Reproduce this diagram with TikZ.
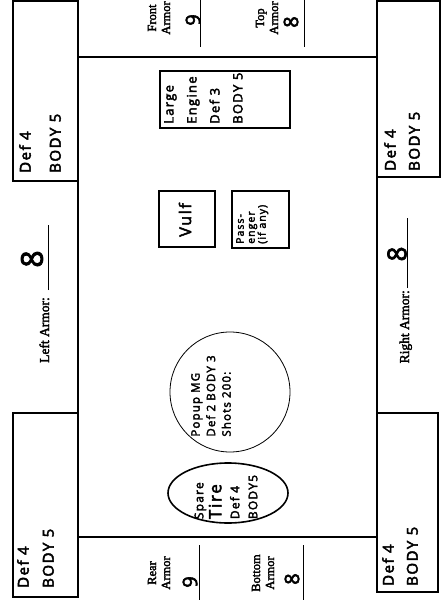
\documentclass[tikz,border=0pt]{standalone}
\usepackage{fontspec}
\setmainfont{Liberation Serif}[FakeBold=2.5]
\newfontfamily\handfont[LetterSpace=10, FakeBold=3]{Open Sans}
\newcommand{\handsize}[2]{\handfont\fontsize{#1}{#2}\selectfont}
\usepackage{tikz}
\tikzset{
  heavy/.style={line width=2.4pt},
  partbox/.style={line width=2.6pt},
  blank/.style={line width=0.7pt},
  printed/.style={rotate=90, align=center, inner sep=0pt,
    font=\fontsize{12.5}{14}\selectfont},
  hand/.style={rotate=90, align=left, inner sep=0pt},
}

\begin{document}
\begin{tikzpicture}[x=1pt, y=-1pt]
  \useasboundingbox (0,0) rectangle (447,609);

  % Wheels
  \draw[heavy] (13,1) rectangle (78,181);
  \draw[heavy] (377,1) rectangle (440,177);
  \draw[heavy] (13,413) rectangle (78,597);
  \draw[heavy] (377,413) rectangle (438,592);

  % Body outline
  \draw[heavy] (78,57) -- (377,57);
  \draw[heavy] (78,537) -- (377,537);
  \draw[heavy] (78,181) -- (78,413);
  \draw[heavy] (377,177) -- (377,413);

  % Wheel stats
  \node[hand, font=\handsize{15}{30}, anchor=north west] (wheelfl) at (19,173) {Def 4\\BODY 5};
  \node[hand, font=\handsize{15}{24}, anchor=north west] (wheelfr) at (384,171) {Def 4\\BODY 5};
  \node[hand, font=\handsize{15}{25}, anchor=north west] (wheelrl) at (17,588) {Def 4\\BODY 5};
  \node[hand, font=\handsize{15}{24}, anchor=north west] (wheelrr) at (382,586) {Def 4\\BODY 5};

  % Front and top armor
  \node[printed] (frontlbl) at (159,18) {Front\\Armor};
  \node[hand, font=\handsize{20}{20}] (frontval) at (193,20) {9};
  \draw[blank] (200,0) -- (200,47);
  \node[printed] (toplbl) at (267,18) {Top\\Armor};
  \node[hand, font=\handsize{20}{20}] (topval) at (291,22) {8};
  \draw[blank] (304,0) -- (304,47);

  % Rear and bottom armor
  \node[printed] (rearlbl) at (159,573) {Rear\\Armor};
  \node[hand, font=\handsize{20}{20}] (rearval) at (190,582) {9};
  \draw[blank] (199,545) -- (199,600);
  \node[printed] (bottomlbl) at (263,573) {Bottom\\Armor};
  \node[hand, font=\handsize{20}{20}] (bottomval) at (292,579) {8};
  \draw[blank] (303,545) -- (303,600);

  % Side armor
  \node[printed, font=\fontsize{13.5}{15}\selectfont, anchor=base east] (leftlbl) at (49,297) {Left Armor:};
  \draw[blank] (48,290) -- (48,225);
  \node[hand, font=\handsize{30}{30}] (leftval) at (32,259) {8};
  \node[printed, font=\fontsize{13.5}{15}\selectfont, anchor=base east] (rightlbl) at (409,290) {Right Armor:};
  \draw[blank] (407,288) -- (407,218);
  \node[hand, font=\handsize{26}{26}] (rightval) at (397,254) {8};

  % Components
  \draw[partbox] (160,71) rectangle (290,128);
  \node[hand, font=\handsize{13}{23}, anchor=north west] (engine) at (164,124) {Large\\Engine\\Def 3\\BODY 5};
  \draw[partbox] (159,191) rectangle (215,247);
  \node[hand, font=\handsize{16}{16}] (driver) at (185,220) {Vulf};
  \draw[partbox] (232,191) rectangle (289,248);
  \node[hand, font=\handsize{10.5}{11}, anchor=north west] (passenger) at (236,244) {Pass-\\enger\\(if any)};

  % Weapon and spare tire
  \draw[line width=0.8pt] (230,392) circle (60);
  \node[hand, font=\handsize{11.5}{15.5}] (popup) at (211,396) {Popup MG\\Def 2 BODY 3\\Shots 200:};
  \draw[line width=1.6pt] (228,493) ellipse (60 and 30);
  \node[hand, font=\handsize{12}{18}] (spare) at (226,497) {Spare\\{\fontsize{17}{18}\selectfont Tire}\\Def 4\\BODY5};
\end{tikzpicture}
\end{document}
